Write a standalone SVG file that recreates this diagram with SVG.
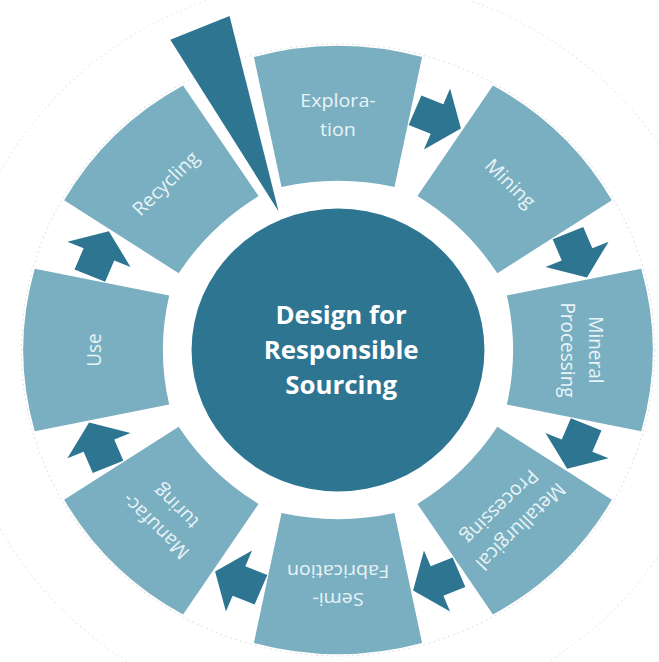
<svg xmlns="http://www.w3.org/2000/svg" width="659" height="662" viewBox="0 0 659 662">
  <defs>
    <style>
      .seg { fill: #7aafc1; }
      .dark { fill: #2e7592; }
      .lbl { font-family: "Open Sans", "Liberation Sans", sans-serif; font-size: 19px; fill: #e8f4f7; text-anchor: middle; }
      .ctr { font-family: "Open Sans", "Liberation Sans", sans-serif; font-size: 25px; font-weight: bold; fill: #ffffff; text-anchor: middle; }
      .ring { fill: none; stroke: #e2e2e2; stroke-width: 1; stroke-dasharray: 2 3; }
    </style>
    <!-- one ring segment, pointing straight up from the hub centre -->
    <path id="seg" d="M -81.23,-292.95 A 304 304 0 0 1 81.23,-292.95 L 54.57,-163.11 A 250 250 0 0 0 -54.57,-163.11 Z"/>
    <!-- block arrow sitting in a gap, pointing clockwise -->
    <path id="arrow" d="M -23,-266 L 0,-266 L 0,-283 L 25,-250 L 0,-217 L 0,-234 L -23,-234 Z"/>
  </defs>

  <rect width="659" height="662" fill="#ffffff"/>

  <g transform="translate(338,350) scale(1.035,1)">
    <!-- faint guide rings -->
    <circle class="ring" r="306"/>
    <circle class="ring" r="372" opacity="0.7"/>

    <g id="exploration">
      <use href="#seg" class="seg"/>
      <text class="lbl" x="0" y="-243">Explora-</text>
      <text class="lbl" x="0" y="-214">tion</text>
    </g>

    <g id="mining" transform="rotate(45)">
      <use href="#seg" class="seg"/>
      <text class="lbl" x="0" y="-229">Mining</text>
    </g>

    <g id="mineral-processing" transform="rotate(90)">
      <use href="#seg" class="seg"/>
      <text class="lbl" x="0" y="-243">Mineral</text>
      <text class="lbl" x="0" y="-215">Processing</text>
    </g>

    <g id="metallurgical-processing" transform="rotate(135)">
      <use href="#seg" class="seg"/>
      <text class="lbl" x="0" y="-243">Metallurgical</text>
      <text class="lbl" x="0" y="-215">Processing</text>
    </g>

    <g id="semi-fabrication" transform="rotate(180)">
      <use href="#seg" class="seg"/>
      <text class="lbl" x="0" y="-243">Semi-</text>
      <text class="lbl" x="0" y="-215">Fabrication</text>
    </g>

    <g id="manufacturing" transform="rotate(225)">
      <use href="#seg" class="seg"/>
      <text class="lbl" x="0" y="-243">Manufac-</text>
      <text class="lbl" x="0" y="-215">turing</text>
    </g>

    <g id="use" transform="rotate(270)">
      <use href="#seg" class="seg"/>
      <text class="lbl" x="0" y="-229">Use</text>
    </g>

    <g id="recycling" transform="rotate(315)">
      <use href="#seg" class="seg"/>
      <text class="lbl" x="0" y="-229">Recycling</text>
    </g>

    <!-- arrows between stages, plus the wedge closing the loop -->
    <g id="connectors" class="dark">
      <use href="#arrow" transform="rotate(22.5)"/>
      <use href="#arrow" transform="rotate(67.5)"/>
      <use href="#arrow" transform="rotate(112.5)"/>
      <use href="#arrow" transform="rotate(157.5)"/>
      <use href="#arrow" transform="rotate(202.5)"/>
      <use href="#arrow" transform="rotate(247.5)"/>
      <use href="#arrow" transform="rotate(292.5)"/>
      <path d="M -31,-348.6 L 31,-348.6 L 0,-150 Z" transform="rotate(-22.5)"/>
    </g>

    <g id="hub">
      <circle class="dark" r="141.5"/>
      <text class="ctr" x="3" y="-26">Design for</text>
      <text class="ctr" x="3" y="9">Responsible</text>
      <text class="ctr" x="3" y="44">Sourcing</text>
    </g>
  </g>
</svg>
